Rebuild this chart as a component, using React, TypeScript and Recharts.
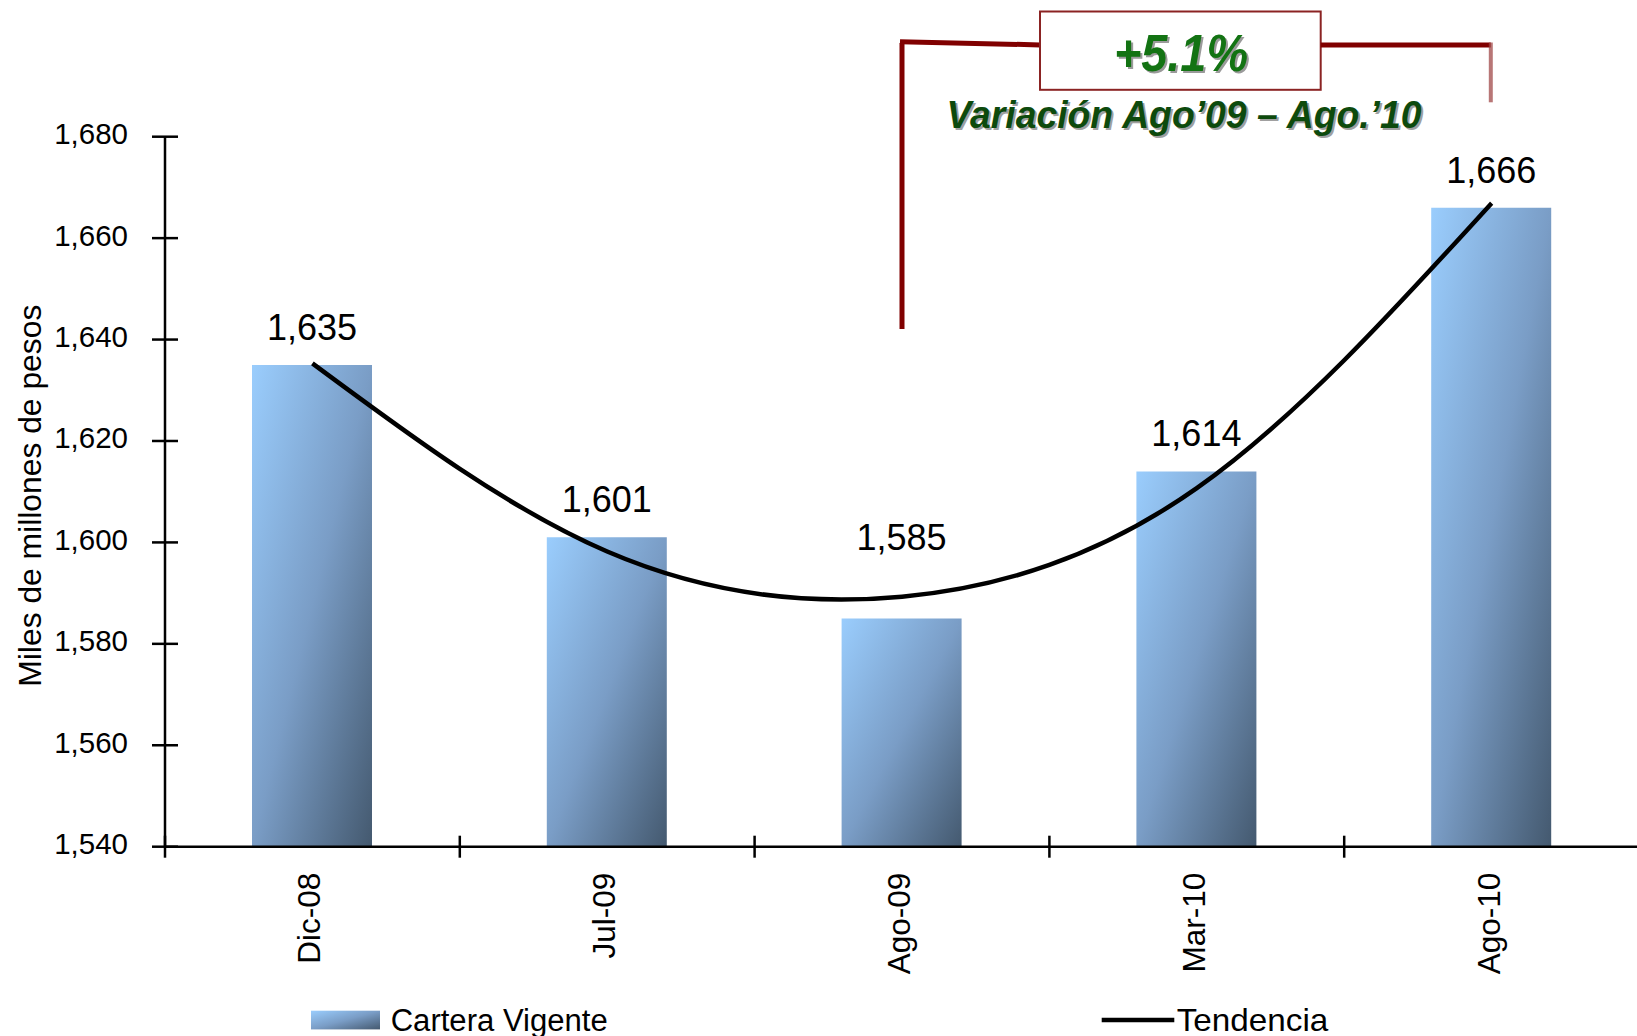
import { Bar, ComposedChart, LabelList, Legend, Line, XAxis, YAxis } from "recharts";

// valores (miles de millones de pesos)
const periodos = ["Dic-08", "Jul-09", "Ago-09", "Mar-10", "Ago-10"];
const cartera = [1635, 1601, 1585, 1614, 1666];
const tendencia = [1635.3, 1598.2, 1589.3, 1610.7, 1666.9];
const yTicks = [1540, 1560, 1580, 1600, 1620, 1640, 1660, 1680];

const data = periodos.map((periodo, i) => ({
  periodo,
  cartera: cartera[i],
  tendencia: tendencia[i],
}));

const W = 1639;
const H = 1036;
const TOP = 136.7;
const AXIS_W = 165;
const XAXIS_H = 189.3;
const BAND = (W - AXIS_W) / periodos.length;
const FONT = '"Liberation Sans", Arial, sans-serif';
const RED = "#800000";

const fmt = (v: number) => v.toLocaleString("en-US");

function YTick({ x, y, payload }: any) {
  return (
    <g>
      <line x1={x - 13} x2={x + 13} y1={y} y2={y} stroke="#000" strokeWidth={2.5} />
      <text x={x - 37} y={y} dy={7.5} textAnchor="end" fontSize={29.5} fontFamily={FONT} fill="#000">
        {fmt(payload.value)}
      </text>
    </g>
  );
}

function XTick({ x, y, payload, index }: any) {
  const left = x - BAND / 2;
  const last = index === periodos.length - 1;
  return (
    <g>
      <line x1={left} x2={left} y1={y - 11} y2={y + 11} stroke="#000" strokeWidth={2.5} />
      {last && <line x1={left + BAND} x2={left + BAND} y1={y - 11} y2={y + 11} stroke="#000" strokeWidth={2.5} />}
      <text
        x={x}
        y={y + 26}
        dy={8}
        transform={`rotate(-90 ${x} ${y + 26})`}
        textAnchor="end"
        fontSize={31.5}
        fontFamily={FONT}
        fill="#000"
      >
        {payload.value}
      </text>
    </g>
  );
}

function BarLabel(props: any) {
  const { x, y, width, value } = props;
  const i = props.index ?? cartera.indexOf(value);
  const raised = tendencia[i] - cartera[i] > 2;
  return (
    <text x={x + width / 2} y={y - (raised ? 68 : 25)} textAnchor="middle" fontSize={36} fontFamily={FONT} fill="#000">
      {fmt(value)}
    </text>
  );
}

function YLabel({ viewBox }: any) {
  const cx = viewBox.x + 30;
  const cy = viewBox.y + viewBox.height / 2 + 4;
  return (
    <text
      x={cx}
      y={cy}
      transform={`rotate(-90 ${cx} ${cy})`}
      textAnchor="middle"
      dominantBaseline="central"
      fontSize={32}
      textLength={382}
      lengthAdjust="spacingAndGlyphs"
      fontFamily={FONT}
      fill="#000"
    >
      Miles de millones de pesos
    </text>
  );
}

function LegendBox({ payload }: any) {
  const bar = payload?.find((p: any) => p.dataKey === "cartera");
  const line = payload?.find((p: any) => p.dataKey === "tendencia");
  return (
    <svg width={1637} height={46} style={{ display: "block" }}>
      <defs>
        <linearGradient id="legendGrad" x1="0" y1="0" x2="1" y2="1">
          <stop offset="0%" stopColor="#9acdfd" />
          <stop offset="50%" stopColor="#7a9dc6" />
          <stop offset="100%" stopColor="#44596f" />
        </linearGradient>
      </defs>
      <rect x={311} y={20.7} width={69} height={18.7} fill="url(#legendGrad)" />
      <text x={390.7} y={41.2} fontSize={31} textLength={217} lengthAdjust="spacingAndGlyphs" fontFamily={FONT} fill="#000">
        {bar?.value ?? "Cartera Vigente"}
      </text>
      <line x1={1101.7} x2={1174.3} y1={30} y2={30} stroke="#000" strokeWidth={4.5} />
      <text x={1176.7} y={41.2} fontSize={31.5} textLength={151.7} lengthAdjust="spacingAndGlyphs" fontFamily={FONT} fill="#000">
        {line?.value ?? "Tendencia"}
      </text>
    </svg>
  );
}

function Annotation() {
  return (
    <svg width={1637} height={H} style={{ position: "absolute", left: 0, top: 0, pointerEvents: "none" }}>
      <line x1={902} x2={902} y1={43} y2={329} stroke={RED} strokeWidth={5} />
      <line x1={900} x2={1040} y1={41.8} y2={44.9} stroke={RED} strokeWidth={5} />
      <rect x={1040} y={11.5} width={280.7} height={78.3} fill="#fff" stroke="#8b2323" strokeWidth={2} />
      <line x1={1320.7} x2={1490.8} y1={44.9} y2={44.9} stroke={RED} strokeWidth={5} />
      <line x1={1490.8} x2={1490.8} y1={42.5} y2={102.3} stroke="#a04848" strokeWidth={4} strokeOpacity={0.75} />
      <text x={1183} y={73} textAnchor="middle" fontSize={52} fontWeight="bold" fontStyle="italic"
        textLength={134} lengthAdjust="spacingAndGlyphs" fontFamily={FONT} fill="#9a9a9a">
        +5.1%
      </text>
      <text x={1181} y={71} textAnchor="middle" fontSize={52} fontWeight="bold" fontStyle="italic"
        textLength={134} lengthAdjust="spacingAndGlyphs" fontFamily={FONT} fill="#137313">
        +5.1%
      </text>
      <text x={1186} y={130} textAnchor="middle" fontSize={38} fontWeight="bold" fontStyle="italic"
        textLength={475} lengthAdjust="spacingAndGlyphs" fontFamily={FONT} fill="#a0a0a0">
        Variación Ago’09 – Ago.’10
      </text>
      <text x={1184} y={128} textAnchor="middle" fontSize={38} fontWeight="bold" fontStyle="italic"
        textLength={475} lengthAdjust="spacingAndGlyphs" fontFamily={FONT} fill="#0d4a0d">
        Variación Ago’09 – Ago.’10
      </text>
    </svg>
  );
}

export default function App() {
  return (
    <div
      style={{
        position: "absolute",
        left: 0,
        top: 0,
        width: 1637,
        height: H,
        overflow: "hidden",
        background: "#fff",
        fontFamily: FONT,
      }}
    >
      <ComposedChart width={W} height={H} data={data} margin={{ top: TOP, right: 0, bottom: 0, left: 0 }}>
        <defs>
          <linearGradient id="barGrad" x1="0" y1="0" x2="1" y2="1">
            <stop offset="0%" stopColor="#9acdfd" />
            <stop offset="50%" stopColor="#7a9dc6" />
            <stop offset="100%" stopColor="#44596f" />
          </linearGradient>
        </defs>
        <XAxis
          dataKey="periodo"
          height={XAXIS_H}
          interval={0}
          tickSize={0}
          tickMargin={0}
          tickLine={false}
          axisLine={{ stroke: "#000", strokeWidth: 2.5 }}
          tick={<XTick />}
        />
        <YAxis
          width={AXIS_W}
          domain={[1540, 1680]}
          ticks={yTicks}
          interval={0}
          tickSize={0}
          tickMargin={0}
          tickLine={false}
          axisLine={{ stroke: "#000", strokeWidth: 2.5 }}
          tick={<YTick />}
          label={<YLabel />}
        />
        <Legend
          layout="vertical"
          align="center"
          verticalAlign="middle"
          wrapperStyle={{ position: "absolute", left: 0, top: 990, width: 1637, height: 46 }}
          content={<LegendBox />}
        />
        <Bar dataKey="cartera" name="Cartera Vigente" barSize={120} fill="url(#barGrad)" isAnimationActive={false}>
          <LabelList dataKey="cartera" content={<BarLabel />} />
        </Bar>
        <Line
          dataKey="tendencia"
          name="Tendencia"
          type="natural"
          stroke="#000"
          strokeWidth={4.5}
          dot={false}
          activeDot={false}
          isAnimationActive={false}
        />
      </ComposedChart>
      <Annotation />
    </div>
  );
}
